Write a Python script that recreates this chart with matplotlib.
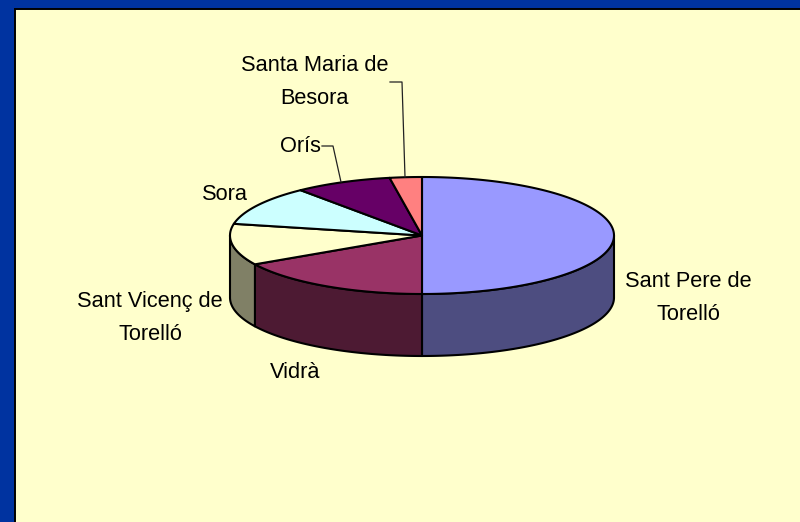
import numpy as np
import matplotlib
matplotlib.use("Agg")
import matplotlib.pyplot as plt
from matplotlib.patches import Polygon, Rectangle

plt.rcParams['font.family'] = ['Liberation Sans', 'DejaVu Sans']

categories = ["Sant Pere de\nTorelló", "Vidrà", "Sant Vicenç de\nTorelló", "Sora", "Orís", "Santa Maria de\nBesora"]
values = [50.0, 16.8, 11.4, 10.9, 8.2, 2.7]
top_colors = ["#9999FF", "#993366", "#FFFFCC", "#CCFFFF", "#660066", "#FF8080"]
side_colors = ["#4D4D80", "#4D1A33", "#808066", "#668080", "#330033", "#804040"]
label_pos = [(688, 298), (295, 372), (150, 318), (225, 194), (300, 146), (315, 82)]

CX, CY, RX, RY, DEPTH = 422.0, 235.5, 192.0, 58.5, 62.0

fig = plt.figure(figsize=(8, 5.22), dpi=100, facecolor="#0033A0")
ax = fig.add_axes([0, 0, 1, 1])
ax.set_xlim(0, 800)
ax.set_ylim(522, 0)
ax.axis("off")

ax.add_patch(Rectangle((15, 9), 790, 520, facecolor="#FFFFCC", edgecolor="#000000", lw=1.4, zorder=1))


def arc(a0, a1, dy=0.0):
    t = np.radians(np.linspace(a0, a1, 160))
    return np.column_stack([CX + RX * np.sin(t), CY + dy - RY * np.cos(t)])


edges = np.concatenate([[0], np.cumsum(values)]) / np.sum(values) * 360

# front walls
for a0, a1, sc in zip(edges[:-1], edges[1:], side_colors):
    lo, hi = max(a0, 90), min(a1, 270)
    if hi <= lo:
        continue
    pts = np.vstack([arc(lo, hi), arc(lo, hi, DEPTH)[::-1]])
    ax.add_patch(Polygon(pts, closed=True, facecolor=sc, edgecolor="black", lw=1.5,
                         joinstyle="round", zorder=2))

# top faces
for a0, a1, tc in zip(edges[:-1], edges[1:], top_colors):
    pts = np.vstack([[CX, CY], arc(a0, a1)])
    ax.add_patch(Polygon(pts, closed=True, facecolor=tc, edgecolor="black", lw=1.5,
                         joinstyle="round", zorder=3))

# labels
for name, (x, y) in zip(categories, label_pos):
    ax.text(x, y, name, ha="center", va="center", fontsize=15.7, color="black",
            linespacing=1.72, zorder=5)

# leader lines
ax.plot([390, 402, 405], [82, 82, 177], color="#222222", lw=0.9, zorder=4)
ax.plot([322, 333, 341], [146, 146, 182], color="#222222", lw=0.9, zorder=4)

fig.savefig("out.png", dpi=100, facecolor=fig.get_facecolor())
